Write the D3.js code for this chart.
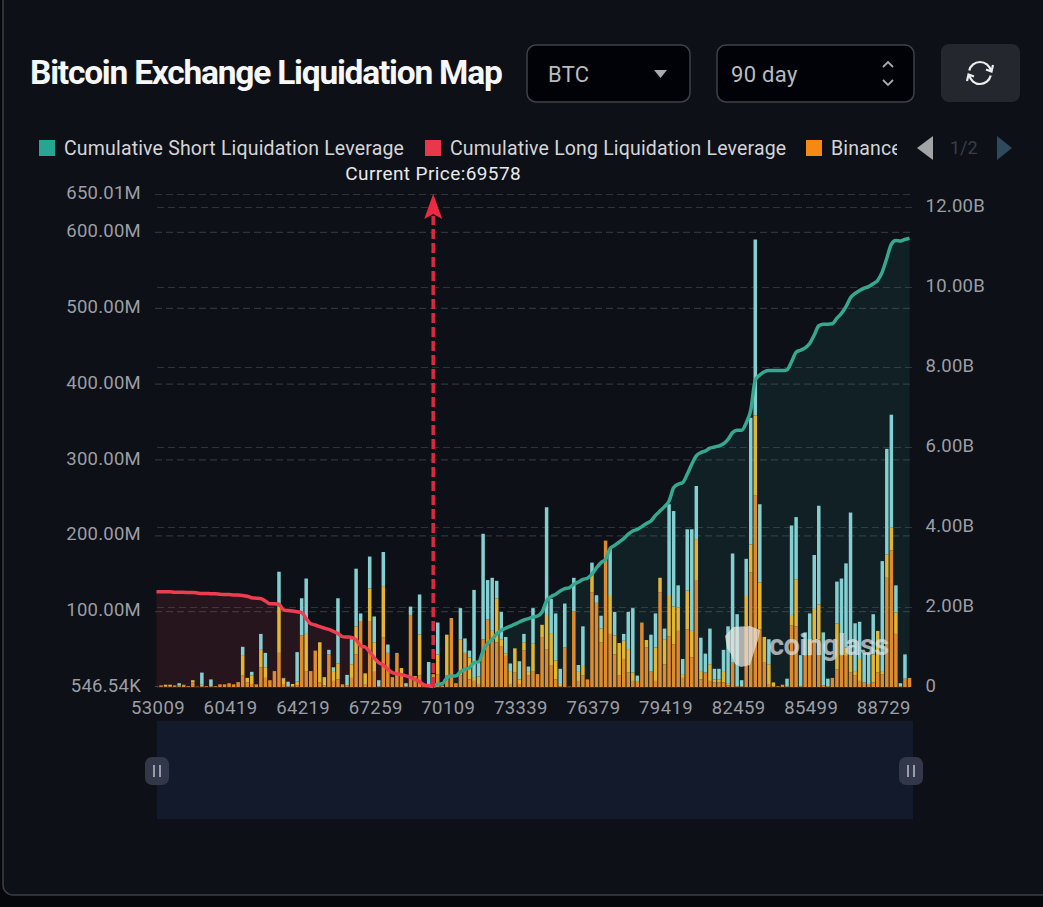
<!DOCTYPE html>
<html>
<head>
<meta charset="utf-8">
<title>Bitcoin Exchange Liquidation Map</title>
<script src="https://cdn.jsdelivr.net/npm/d3@7"></script>
<style>
    html, body { margin: 0; padding: 0; background: #05070b; }
    svg { display: block; }
    text { font-family: Roboto, sans-serif; }
</style>
</head>
<body>
<script>
// tick labels, one every 16 price buckets
const tickLabels = ["53009", "60419", "64219", "67259", "70109", "73339", "76379", "79419", "82459", "85499", "88729"];
const leftTicks = [0.54654, 100, 200, 300, 400, 500, 600, 650.01];
const leftLabels = ["546.54K", "100.00M", "200.00M", "300.00M", "400.00M", "500.00M", "600.00M", "650.01M"];
const rightTicks = [0, 2, 4, 6, 8, 10, 12];
const rightLabels = ["0", "2.00B", "4.00B", "6.00B", "8.00B", "10.00B", "12.00B"];
const legendNames = ["Cumulative Short Liquidation Leverage", "Cumulative Long Liquidation Leverage", "Binance"];

// stacked bars per price bucket, in millions
const binance = [
    0.5, 1, 1, 1, 1, 1, 3, 1, 6, 0.5,
    1, 1, 1, 1, 3.5, 3.5, 5, 3.5, 6.5, 15,
    6, 4, 3.5, 26, 12, 9, 21, 45, 4, 1,
    1, 2, 68, 21, 21, 48, 6, 2, 43, 8,
    10, 3.5, 2, 12, 43, 87, 3, 87, 20, 1,
    65, 45, 13, 45, 15, 1, 95, 14.5, 15, 2,
    4, 17, 17, 2, 15, 91, 5, 15, 45, 10,
    8, 4, 63, 89, 60, 59, 54, 41, 4, 19,
    4, 48, 15, 21, 17, 65, 50, 28, 10, 1,
    52, 0.5, 100, 8, 15, 10, 125, 111, 59, 193,
    70, 43, 15, 37, 19, 8, 8, 85, 52, 21,
    8, 125, 30, 67, 56, 74, 12, 76, 39, 140,
    10, 19, 8, 6, 6, 6, 2, 32, 1, 1,
    80, 151, 253, 76, 32, 4, 1, 1, 3, 1,
    81, 80, 1, 41, 41, 63, 63, 2, 1, 12,
    23, 41, 41, 19, 15, 8, 6, 4, 6, 19,
    17, 144, 180, 70, 1, 11, 12
];
const okx = [
    0, 1, 2, 2, 1, 1, 0, 0, 3, 0,
    2, 0, 0, 0, 0, 0, 0, 0, 0, 27,
    6, 11, 0, 23, 14, 0, 0, 61, 7, 0,
    3, 5, 0, 49, 0, 0, 53, 11, 0, 13,
    21, 0, 0, 18, 37, 0, 15, 43, 39, 0,
    68, 0, 0, 0, 10, 0, 0, 0, 54, 0,
    0, 0, 26, 0, 54, 0, 0, 48, 0, 29,
    4, 10, 0, 0, 14, 58, 9, 3, 17, 32,
    6, 11, 6, 36, 0, 17, 45, 42, 25, 3,
    0, 0, 0, 13, 14, 0, 24, 0, 18, 0,
    50, 25, 43, 24, 31, 11, 0, 0, 10, 0,
    44, 19, 33, 53, 50, 31, 5, 51, 35, 55,
    11, 0, 22, 4, 4, 15, 3, 0, 0, 0,
    40, 37, 105, 62, 34, 26, 5, 0, 0, 0,
    14, 62, 0, 0, 22, 40, 46, 0, 0, 0,
    61, 2, 11, 22, 6, 29, 0, 0, 37, 55,
    4, 31, 30, 28, 0, 0, 0
];
const bybit = [
    0, 0, 0, 0, 0, 3, 0, 0, 0, 0,
    16, 0, 9, 0, 0, 0, 0, 0, 0, 11,
    0, 5, 0, 21, 19, 0, 0, 46, 1, 6,
    0, 39, 49, 73, 0, 0, 0, 0, 6, 5,
    86, 0, 14, 33, 76, 10, 0, 42, 34, 8,
    45, 11, 0, 0, 0, 4, 11, 0, 53, 0,
    29, 0, 42, 0, 0, 0, 0, 41, 19, 9,
    116, 18, 139, 52, 70, 23, 36, 22, 10, 0,
    24, 11, 6, 47, 0, 0, 142, 46, 62, 20,
    58, 0, 44, 8, 51, 0, 15, 10, 17, 0,
    62, 31, 0, 9, 49, 85, 7, 0, 0, 48,
    45, 0, 14, 121, 126, 29, 20, 81, 134, 70,
    44, 25, 47, 14, 14, 28, 75, 144, 95, 8,
    49, 167, 232, 103, 0, 33, 0, 0, 0, 10,
    118, 82, 41, 31, 34, 71, 130, 70, 10, 0,
    55, 100, 111, 189, 63, 49, 39, 41, 53, 0,
    145, 139, 149, 36, 4, 32, 0
];

// cumulative lines, in billions. long runs from the first bucket down to the current price,
// short runs from the current price bucket to the last one
const longLiq = [
    2.38, 2.38, 2.38, 2.38, 2.37, 2.37, 2.37, 2.36, 2.36, 2.35,
    2.34, 2.34, 2.33, 2.33, 2.32, 2.31, 2.31, 2.30, 2.30, 2.29,
    2.27, 2.23, 2.22, 2.21, 2.15, 2.08, 2.08, 2.07, 1.93, 1.91,
    1.90, 1.88, 1.86, 1.71, 1.58, 1.55, 1.51, 1.47, 1.44, 1.39,
    1.34, 1.26, 1.25, 1.24, 1.18, 1.03, 1.00, 0.88, 0.73, 0.61,
    0.55, 0.44, 0.36, 0.33, 0.31, 0.28, 0.24, 0.19, 0.13, 0.05,
    0.03, 0.01
];
const shortLiq = [
    0.01, 0.07, 0.08, 0.23, 0.275, 0.275, 0.38, 0.44, 0.48, 0.61,
    0.63, 0.9, 1.09, 1.19, 1.33, 1.42, 1.47, 1.52, 1.57, 1.625,
    1.675, 1.71, 1.75, 1.775, 1.875, 2.15, 2.26, 2.32, 2.4, 2.46,
    2.48, 2.57, 2.625, 2.69, 2.72, 2.82, 2.98, 3.11, 3.19, 3.46,
    3.54, 3.625, 3.71, 3.82, 3.9, 3.94, 4.01, 4.09, 4.15, 4.29,
    4.4, 4.51, 4.65, 4.98, 5.07, 5.11, 5.32, 5.57, 5.78, 5.86,
    5.9, 5.97, 6.0, 6.03, 6.08, 6.19, 6.36, 6.42, 6.42, 6.6,
    6.92, 7.67, 7.8, 7.88, 7.91, 7.91, 7.91, 7.91, 7.93, 8.13,
    8.37, 8.42, 8.48, 8.59, 8.8, 9.03, 9.07, 9.07, 9.08, 9.22,
    9.34, 9.51, 9.73, 9.84, 9.91, 9.97, 10.01, 10.08, 10.17, 10.38,
    10.72, 11.07, 11.16, 11.15, 11.19, 11.22
];
const currentIndex = 61;
const currentPrice = 69578;

const width = 1043, height = 907;
const plot = {left: 155, right: 912, top: 194, bottom: 687};
const textGrey = "#9b9ea4";

const svg = d3.select("body").append("svg")
    .attr("width", width)
    .attr("height", height);

svg.append("defs").append("clipPath").attr("id", "legendClip")
    .append("rect").attr("x", 0).attr("y", 125).attr("width", 897).attr("height", 46);

// card
svg.append("rect")
    .attr("x", 3).attr("y", -30)
    .attr("width", 1100).attr("height", 925)
    .attr("rx", 10)
    .attr("fill", "#0d1017")
    .attr("stroke", "#3b3f47")
    .attr("stroke-width", 1.5);

// title
svg.append("text")
    .attr("x", 30).attr("y", 84)
    .attr("fill", "#f6f7f8")
    .attr("font-size", 33.5)
    .attr("font-weight", 700)
    .attr("letter-spacing", -1.22)
    .text("Bitcoin Exchange Liquidation Map");

// selects
function selectBox(x, w, label, labelX) {
    svg.append("rect")
        .attr("x", x).attr("y", 45)
        .attr("width", w).attr("height", 57)
        .attr("rx", 9)
        .attr("fill", "#010207")
        .attr("stroke", "#3d4149")
        .attr("stroke-width", 1.5);
    svg.append("text")
        .attr("x", labelX).attr("y", 82)
        .attr("fill", "#b9bbbf")
        .attr("font-size", 22)
        .attr("letter-spacing", 0.3)
        .text(label);
}
selectBox(527, 163, "BTC", 548);
selectBox(717, 197, "90 day", 731);

svg.append("path").attr("d", "M654,70H667L660.5,78Z").attr("fill", "#a9abaf");
svg.append("path").attr("d", "M883,67L888,62L893,67M883,80L888,85L893,80")
    .attr("fill", "none").attr("stroke", "#a9abaf").attr("stroke-width", 1.8);

// refresh button
svg.append("rect")
    .attr("x", 941).attr("y", 44)
    .attr("width", 79).attr("height", 58)
    .attr("rx", 8)
    .attr("fill", "#24272e");
const refresh = svg.append("g")
    .attr("transform", "translate(980,73)")
    .attr("fill", "none")
    .attr("stroke", "#eceded")
    .attr("stroke-width", 2.2);
const refreshArc = d3.arc().innerRadius(11).outerRadius(11);
refresh.append("path").attr("d", refreshArc({startAngle: -1.35, endAngle: 1.35}));
refresh.append("path").attr("d", refreshArc({startAngle: 1.8, endAngle: 4.5}));
refresh.append("path").attr("d", "M6,-3.5L11.5,-1.5L13,-8");
refresh.append("path").attr("d", "M-6,3.5L-11.5,1.5L-13,8");

// legend
const legendItems = [
    {x: 39, color: "#26a690"},
    {x: 425, color: "#e9384b"},
    {x: 806, color: "#f58a12"}
];
const legend = svg.append("g").attr("clip-path", "url(#legendClip)");
legendItems.forEach(function(d, i) {
    legend.append("rect")
        .attr("x", d.x).attr("y", 140)
        .attr("width", 16).attr("height", 16)
        .attr("fill", d.color);
    legend.append("text")
        .attr("x", d.x + 25).attr("y", 155)
        .attr("fill", "#d4d5d8")
        .attr("font-size", 19.5)
        .attr("letter-spacing", 0.17)
        .text(legendNames[i]);
});
svg.append("path").attr("d", "M933,136V160L917,148Z").attr("fill", "#a3a4a6");
svg.append("text")
    .attr("x", 950).attr("y", 154)
    .attr("fill", "#3a3e46")
    .attr("font-size", 18)
    .text("1/2");
svg.append("path").attr("d", "M997,136V160L1012,148Z").attr("fill", "#2e4a5d");

// scales
const x = d3.scalePoint()
    .domain(d3.range(binance.length))
    .range([156.5, 909.5]);

const yLeft = d3.scaleLinear()
    .domain([0, 650.01])
    .range([plot.bottom, plot.top]);

const yRight = d3.scaleLinear()
    .domain([0, 12])
    .range([plot.bottom, 207]);

// axes, the tick lines are the dashed grid
const leftAxis = svg.append("g")
    .attr("transform", "translate(" + plot.left + ",0)")
    .call(d3.axisLeft(yLeft)
        .tickValues(leftTicks)
        .tickSize(-(plot.right - plot.left))
        .tickPadding(14)
        .tickFormat((d, i) => leftLabels[i]));

const rightAxis = svg.append("g")
    .attr("transform", "translate(" + plot.right + ",0)")
    .call(d3.axisRight(yRight)
        .tickValues(rightTicks)
        .tickSize(-(plot.right - plot.left))
        .tickPadding(14)
        .tickFormat((d, i) => rightLabels[i]));

[leftAxis, rightAxis].forEach(function(axis) {
    axis.select(".domain").remove();
    axis.selectAll(".tick line")
        .attr("stroke", "#303339")
        .attr("stroke-width", 1.2)
        .attr("stroke-dasharray", "7,4");
    axis.selectAll(".tick text")
        .attr("fill", textGrey)
        .attr("font-size", 18.5)
        .attr("letter-spacing", 0.25);
});
leftAxis.selectAll(".tick text").attr("dy", "0.25em");
rightAxis.selectAll(".tick text").attr("dy", "0.22em").attr("x", 13.5);
leftAxis.selectAll(".tick").filter(d => d < 1).select("line").remove();
rightAxis.selectAll(".tick").filter(d => d === 0).select("line").remove();

const xAxis = svg.append("g")
    .attr("transform", "translate(0," + plot.bottom + ")")
    .call(d3.axisBottom(x)
        .tickValues(tickLabels.map((d, i) => i * 16))
        .tickSize(0)
        .tickPadding(14)
        .tickFormat((d, i) => tickLabels[i]));
xAxis.select(".domain").attr("stroke", "#23262c");
xAxis.selectAll(".tick text")
    .attr("dx", 1)
    .attr("fill", textGrey)
    .attr("font-size", 18.5)
    .attr("letter-spacing", 0.4);

// cumulative area fills
const longLine = d3.line()
    .x((d, i) => x(i))
    .y(d => yRight(d))
    .curve(d3.curveMonotoneX);
const longArea = d3.area()
    .x((d, i) => x(i))
    .y0(plot.bottom)
    .y1(d => yRight(d))
    .curve(d3.curveMonotoneX);
const shortLine = d3.line()
    .x((d, i) => x(i + currentIndex))
    .y(d => yRight(d))
    .curve(d3.curveMonotoneX);
const shortArea = d3.area()
    .x((d, i) => x(i + currentIndex))
    .y0(plot.bottom)
    .y1(d => yRight(d))
    .curve(d3.curveMonotoneX);

svg.append("path").datum(longLiq).attr("d", longArea).attr("fill", "#e9384b").attr("fill-opacity", 0.12);
svg.append("path").datum(shortLiq).attr("d", shortArea).attr("fill", "#2fb49c").attr("fill-opacity", 0.1);

// stacked bars
const exchanges = ["binance", "okx", "bybit"];
const barColor = d3.scaleOrdinal()
    .domain(exchanges)
    .range(["#de8a2e", "#e3b535", "#84cfd1"]);

const rows = binance.map(function(d, i) {
    return {index: i, binance: d, okx: okx[i], bybit: bybit[i]};
});
const stack = d3.stack().keys(exchanges);
const barWidth = 3.5;

svg.append("g").selectAll("g")
    .data(stack(rows))
    .enter().append("g")
    .attr("fill", d => barColor(d.key))
    .selectAll("rect")
    .data(d => d)
    .enter().append("rect")
    .attr("x", d => x(d.data.index) - barWidth / 2)
    .attr("y", d => yLeft(d[1]))
    .attr("width", barWidth)
    .attr("height", d => yLeft(d[0]) - yLeft(d[1]));

// cumulative lines
svg.append("path").datum(longLiq)
    .attr("d", longLine)
    .attr("fill", "none")
    .attr("stroke", "#ee3d50")
    .attr("stroke-width", 3.5);
svg.append("path").datum(shortLiq)
    .attr("d", shortLine)
    .attr("fill", "none")
    .attr("stroke", "#35a88f")
    .attr("stroke-width", 3.5);

// current price marker
const priceX = x(currentIndex);
svg.append("line")
    .attr("x1", priceX).attr("x2", priceX)
    .attr("y1", plot.bottom).attr("y2", 216)
    .attr("stroke", "#d92a40")
    .attr("stroke-width", 3.5)
    .attr("stroke-dasharray", "10,4");
svg.append("path")
    .attr("transform", "translate(" + priceX + "," + plot.top + ")")
    .attr("d", "M0,0L9,25L0,20L-9,25Z")
    .attr("fill", "#ec2a41");
svg.append("text")
    .attr("x", priceX).attr("y", 180)
    .attr("text-anchor", "middle")
    .attr("fill", "#e8e9ea")
    .attr("font-size", 19)
    .attr("letter-spacing", 0.4)
    .text("Current Price:" + currentPrice);

// watermark
const mark = svg.append("g").attr("opacity", 0.72);
mark.append("path")
    .attr("d", "M725,636L733,627L750,626L760,630L758,640L754,652L750,665L741,667L735,664L731,654L727,648Z")
    .attr("fill", "#e9e6e0");
mark.append("text")
    .attr("x", 769).attr("y", 655)
    .attr("fill", "#dfe1e3")
    .attr("font-size", 29)
    .attr("font-weight", 700)
    .attr("letter-spacing", -0.6)
    .text("coinglass");

// data zoom slider
svg.append("rect")
    .attr("x", 157).attr("y", 721)
    .attr("width", 756).attr("height", 98)
    .attr("fill", "#131a2c");
[157, 911].forEach(function(cx) {
    svg.append("rect")
        .attr("x", cx - 12).attr("y", 757)
        .attr("width", 24).attr("height", 28)
        .attr("rx", 7)
        .attr("fill", "#33374a");
    svg.append("path")
        .attr("d", "M" + (cx - 3) + ",765V777M" + (cx + 3) + ",765V777")
        .attr("stroke", "#9a9ca6")
        .attr("stroke-width", 2);
});
</script>
</body>
</html>
